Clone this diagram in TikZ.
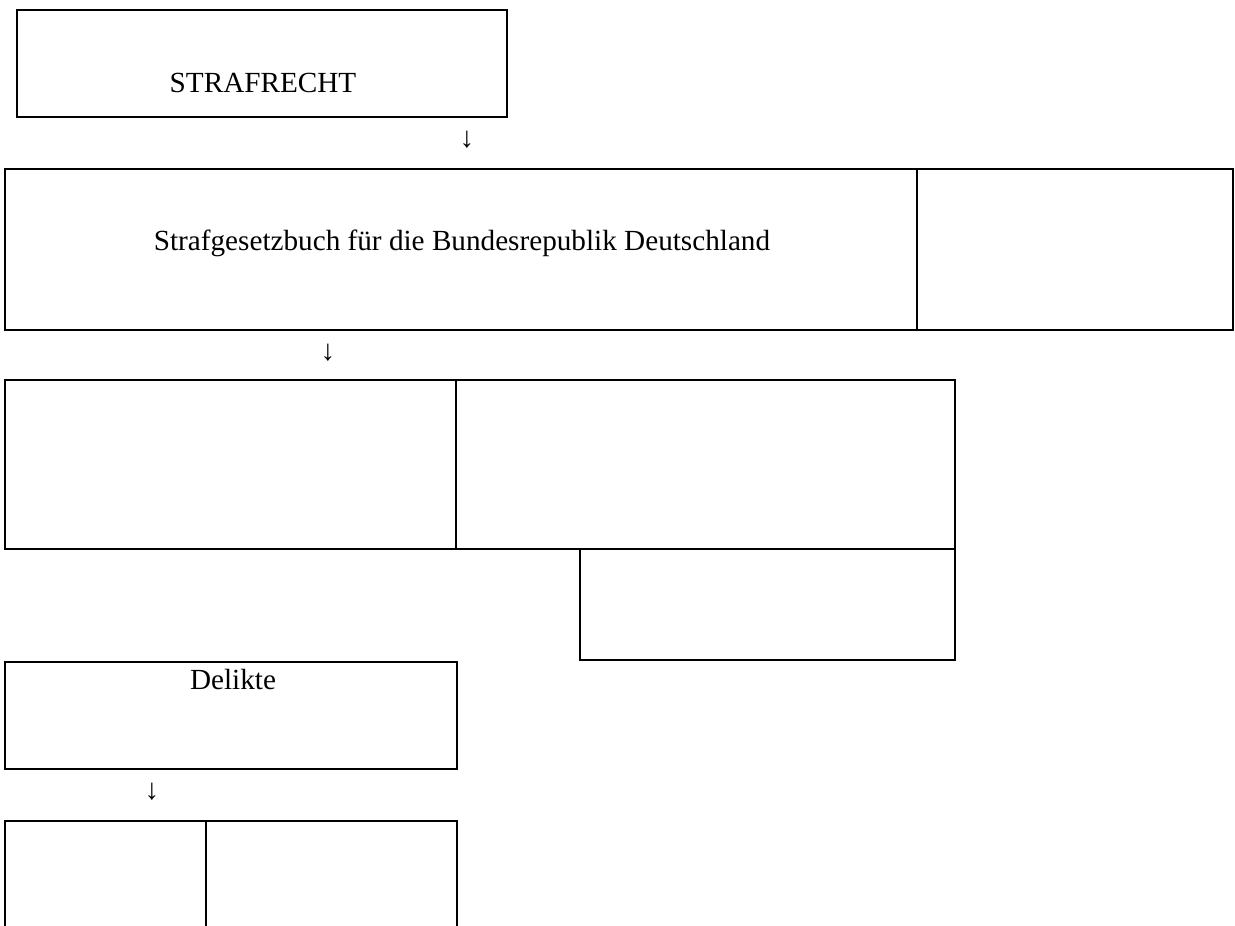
\documentclass[tikz,border=0pt]{standalone}
\usepackage{fontspec}
\setmainfont{Liberation Serif}
\usetikzlibrary{positioning}
\tikzset{every picture/.style={line width=1pt},
  box/.style={draw,rectangle,inner sep=0pt},
  txt/.style={font=\fontsize{14.6}{18}\selectfont,inner sep=0pt}}

\begin{document}
\begin{tikzpicture}[x=0.5pt,y=-0.5pt]
\clip (0,0) rectangle (1235,925);

\node (strafrecht) at (262,63.5) [box,minimum width=245pt,minimum height=53.5pt] {};
\node (strafrechtlabel) at (263,83) [txt] {STRAFRECHT};
\node (pfeil1) at (467,140) [txt] {↓};

\node (stgb) at (461,249.5) [box,minimum width=456pt,minimum height=80.5pt] {};
\node (stgbside) at (1075,249.5) [box,minimum width=158pt,minimum height=80.5pt] {};
\node (stgblabel) at (462,243) [txt] {Strafgesetzbuch für die Bundesrepublik Deutschland};
\node (pfeil2) at (328,353) [txt] {↓};

\node (teil1) at (230.5,464.5) [box,minimum width=225.5pt,minimum height=84.5pt] {};
\node (teil2) at (705.5,464.5) [box,minimum width=249.5pt,minimum height=84.5pt] {};
\node (teil2b) at (767.5,604.5) [box,minimum width=187.5pt,minimum height=55.5pt] {};

\node (delikte) at (231,715.5) [box,minimum width=226pt,minimum height=53.5pt] {};
\node (deliktelabel) at (233,680) [txt] {Delikte};
\node (pfeil3) at (152,792) [txt] {↓};

%\node (art) below of delikte
\node (art1) at (105.5,880.5) [box,minimum width=100.5pt,minimum height=59.5pt] {};
\node (art2) at (331.5,880.5) [box,minimum width=125.5pt,minimum height=59.5pt] {};
\end{tikzpicture}
\end{document}
